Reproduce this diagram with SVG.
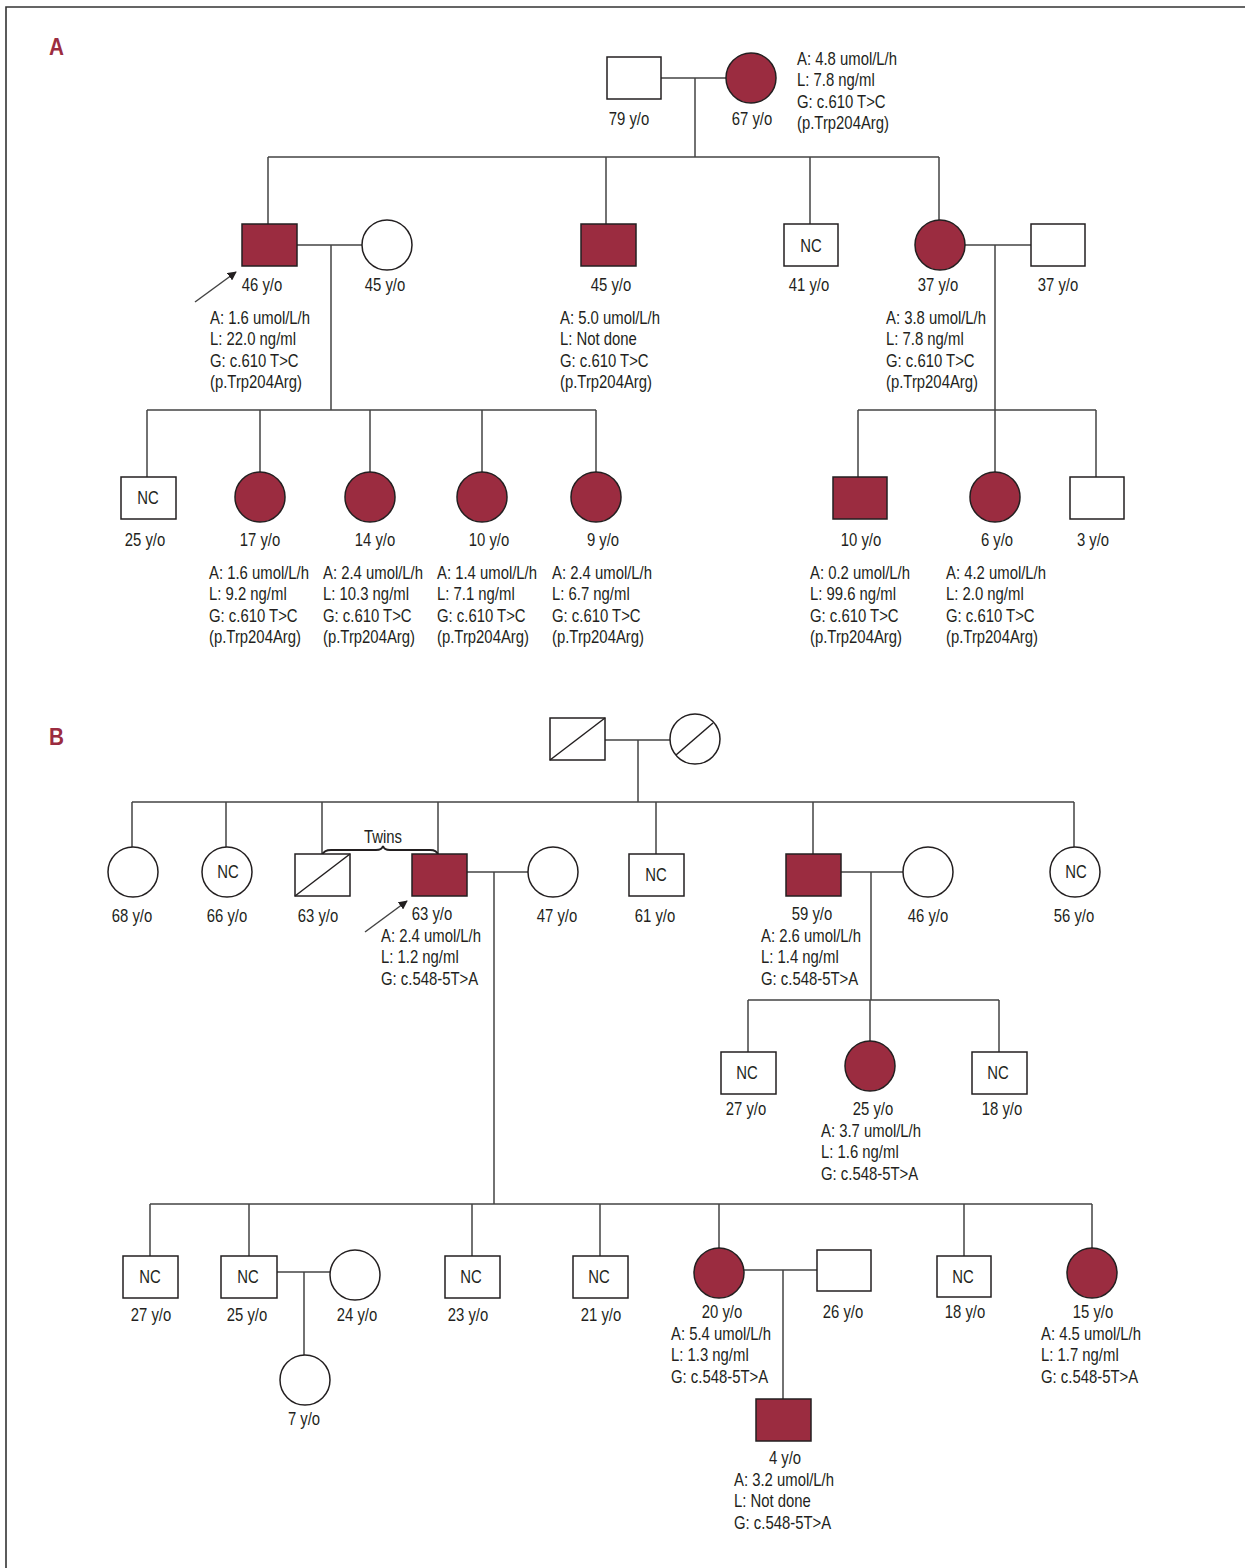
<svg xmlns="http://www.w3.org/2000/svg" width="1245" height="1568" viewBox="0 0 1245 1568">
<defs>
<style>
text{font-family:"Liberation Sans",Arial,sans-serif;font-size:17.5px;fill:#231f20}
.c{text-anchor:middle}
.panel{font-family:"Liberation Sans",Arial,sans-serif;font-weight:bold;font-size:23px;fill:#9b2c40}
.sh{fill:#fff;stroke:#231f20;stroke-width:1.5}
.aff{fill:#9b2c40;stroke:#231f20;stroke-width:1.5}
.ln{fill:none;stroke:#444;stroke-width:1.5}
.dg{stroke:#231f20;stroke-width:1.5}
.frame{fill:none;stroke:#333;stroke-width:1.6}
</style>
<marker id="ah" viewBox="0 0 10 10" refX="9" refY="5" markerWidth="9" markerHeight="9" markerUnits="userSpaceOnUse" orient="auto"><path d="M0,0 L10,5 L0,10 z" fill="#231f20"/></marker>
</defs>
<rect width="1245" height="1568" fill="#fff"/>
<path class="frame" d="M6,1568 V7 H1245"/>
<text class="panel" transform="translate(49,55) scale(.9,1)">A</text>
<text class="panel" transform="translate(49,745) scale(.9,1)">B</text>

<g id="connectors">
<path class="ln" d="M661,78 H726 M695,78 V157 M268,157 H939 M268,157 V224 M606,157 V224 M810,157 V224 M939,157 V220"/>
<path class="ln" d="M297,245 H362 M331,245 V410 M147,410 H596 M147,410 V477 M260,410 V472 M370,410 V472 M482,410 V472 M596,410 V472"/>
<path class="ln" d="M965,245 H1031 M995,245 V472 M858,410 H1096 M858,410 V477 M1096,410 V477"/>
<path class="ln" d="M195,302 L236,272" marker-end="url(#ah)"/>
<path class="ln" d="M605,740 H670 M638,740 V802 M132,802 H1074 M132,802 V847 M226,802 V847 M322,802 V854 M438,802 V854 M656,802 V854 M813,802 V854 M1074,802 V847"/>
<path fill="none" stroke="#231f20" stroke-width="2" d="M322,855 Q324,850 331,850 L376,850 Q382,850 383,846 Q384,850 390,850 L430,850 Q437,850 438,855"/>
<path class="ln" d="M467,872 H528 M494,872 V1204"/>
<path class="ln" d="M841,872 H903 M871,872 V1000 M748,1000 H999 M748,1000 V1052 M870,1000 V1041 M999,1000 V1052"/>
<path class="ln" d="M150,1204 H1092 M150,1204 V1256 M249,1204 V1256 M472,1204 V1256 M600,1204 V1256 M719,1204 V1248 M964,1204 V1256 M1092,1204 V1248"/>
<path class="ln" d="M277,1272 H330 M304,1272 V1355 M744,1270 H817 M783,1270 V1399"/>
<path class="ln" d="M365,932 L407,901" marker-end="url(#ah)"/>
</g>

<g id="a-i1"><rect class="sh" x="607" y="57" width="54" height="42"/><text class="c" transform="translate(629,125) scale(.85,1)">79 y/o</text></g>
<g id="a-i2"><circle class="aff" cx="751" cy="78" r="25"/><text class="c" transform="translate(752,125) scale(.85,1)">67 y/o</text>
<text transform="translate(797,65) scale(.85,1)">A: 4.8 umol/L/h<tspan x="0" dy="21.3">L: 7.8 ng/ml</tspan><tspan x="0" dy="21.3">G: c.610 T&gt;C</tspan><tspan x="0" dy="21.3">(p.Trp204Arg)</tspan></text></g>

<g id="a-ii1"><rect class="aff" x="242" y="224" width="55" height="42"/><text class="c" transform="translate(262,291) scale(.85,1)">46 y/o</text>
<text transform="translate(210,324) scale(.85,1)">A: 1.6 umol/L/h<tspan x="0" dy="21.3">L: 22.0 ng/ml</tspan><tspan x="0" dy="21.3">G: c.610 T&gt;C</tspan><tspan x="0" dy="21.3">(p.Trp204Arg)</tspan></text></g>
<g id="a-ii2"><circle class="sh" cx="387" cy="245" r="25"/><text class="c" transform="translate(385,291) scale(.85,1)">45 y/o</text></g>
<g id="a-ii3"><rect class="aff" x="581" y="224" width="55" height="42"/><text class="c" transform="translate(611,291) scale(.85,1)">45 y/o</text>
<text transform="translate(560,324) scale(.85,1)">A: 5.0 umol/L/h<tspan x="0" dy="21.3">L: Not done</tspan><tspan x="0" dy="21.3">G: c.610 T&gt;C</tspan><tspan x="0" dy="21.3">(p.Trp204Arg)</tspan></text></g>
<g id="a-ii4"><rect class="sh" x="784" y="224" width="54" height="42"/><text class="c" transform="translate(811,252) scale(.85,1)">NC</text><text class="c" transform="translate(809,291) scale(.85,1)">41 y/o</text></g>
<g id="a-ii5"><circle class="aff" cx="940" cy="245" r="25"/><text class="c" transform="translate(938,291) scale(.85,1)">37 y/o</text>
<text transform="translate(886,324) scale(.85,1)">A: 3.8 umol/L/h<tspan x="0" dy="21.3">L: 7.8 ng/ml</tspan><tspan x="0" dy="21.3">G: c.610 T&gt;C</tspan><tspan x="0" dy="21.3">(p.Trp204Arg)</tspan></text></g>
<g id="a-ii6"><rect class="sh" x="1031" y="224" width="54" height="42"/><text class="c" transform="translate(1058,291) scale(.85,1)">37 y/o</text></g>

<g id="a-iii1"><rect class="sh" x="121" y="477" width="55" height="42"/><text class="c" transform="translate(148,504) scale(.85,1)">NC</text><text class="c" transform="translate(145,546) scale(.85,1)">25 y/o</text></g>
<g id="a-iii2"><circle class="aff" cx="260" cy="497" r="25"/><text class="c" transform="translate(260,546) scale(.85,1)">17 y/o</text>
<text transform="translate(209,579) scale(.85,1)">A: 1.6 umol/L/h<tspan x="0" dy="21.3">L: 9.2 ng/ml</tspan><tspan x="0" dy="21.3">G: c.610 T&gt;C</tspan><tspan x="0" dy="21.3">(p.Trp204Arg)</tspan></text></g>
<g id="a-iii3"><circle class="aff" cx="370" cy="497" r="25"/><text class="c" transform="translate(375,546) scale(.85,1)">14 y/o</text>
<text transform="translate(323,579) scale(.85,1)">A: 2.4 umol/L/h<tspan x="0" dy="21.3">L: 10.3 ng/ml</tspan><tspan x="0" dy="21.3">G: c.610 T&gt;C</tspan><tspan x="0" dy="21.3">(p.Trp204Arg)</tspan></text></g>
<g id="a-iii4"><circle class="aff" cx="482" cy="497" r="25"/><text class="c" transform="translate(489,546) scale(.85,1)">10 y/o</text>
<text transform="translate(437,579) scale(.85,1)">A: 1.4 umol/L/h<tspan x="0" dy="21.3">L: 7.1 ng/ml</tspan><tspan x="0" dy="21.3">G: c.610 T&gt;C</tspan><tspan x="0" dy="21.3">(p.Trp204Arg)</tspan></text></g>
<g id="a-iii5"><circle class="aff" cx="596" cy="497" r="25"/><text class="c" transform="translate(603,546) scale(.85,1)">9 y/o</text>
<text transform="translate(552,579) scale(.85,1)">A: 2.4 umol/L/h<tspan x="0" dy="21.3">L: 6.7 ng/ml</tspan><tspan x="0" dy="21.3">G: c.610 T&gt;C</tspan><tspan x="0" dy="21.3">(p.Trp204Arg)</tspan></text></g>
<g id="a-iii6"><rect class="aff" x="833" y="477" width="54" height="42"/><text class="c" transform="translate(861,546) scale(.85,1)">10 y/o</text>
<text transform="translate(810,579) scale(.85,1)">A: 0.2 umol/L/h<tspan x="0" dy="21.3">L: 99.6 ng/ml</tspan><tspan x="0" dy="21.3">G: c.610 T&gt;C</tspan><tspan x="0" dy="21.3">(p.Trp204Arg)</tspan></text></g>
<g id="a-iii7"><circle class="aff" cx="995" cy="497" r="25"/><text class="c" transform="translate(997,546) scale(.85,1)">6 y/o</text>
<text transform="translate(946,579) scale(.85,1)">A: 4.2 umol/L/h<tspan x="0" dy="21.3">L: 2.0 ng/ml</tspan><tspan x="0" dy="21.3">G: c.610 T&gt;C</tspan><tspan x="0" dy="21.3">(p.Trp204Arg)</tspan></text></g>
<g id="a-iii8"><rect class="sh" x="1070" y="477" width="54" height="42"/><text class="c" transform="translate(1093,546) scale(.85,1)">3 y/o</text></g>

<g id="b-i1"><rect class="sh" x="550" y="718" width="55" height="42"/><line class="dg" x1="550" y1="760" x2="605" y2="718"/></g>
<g id="b-i2"><circle class="sh" cx="695" cy="739" r="25"/><line class="dg" x1="676" y1="755" x2="713" y2="723"/></g>

<g id="b-ii1"><circle class="sh" cx="133" cy="872" r="25"/><text class="c" transform="translate(132,922) scale(.85,1)">68 y/o</text></g>
<g id="b-ii2"><circle class="sh" cx="227" cy="872" r="25"/><text class="c" transform="translate(228,878) scale(.85,1)">NC</text><text class="c" transform="translate(227,922) scale(.85,1)">66 y/o</text></g>
<g id="b-ii3"><rect class="sh" x="295" y="854" width="55" height="42"/><line class="dg" x1="295" y1="896" x2="350" y2="854"/><text class="c" transform="translate(318,922) scale(.85,1)">63 y/o</text></g>
<text class="c" transform="translate(383,843) scale(.85,1)">Twins</text>
<g id="b-ii4"><rect class="aff" x="412" y="854" width="55" height="42"/><text class="c" transform="translate(432,920) scale(.85,1)">63 y/o</text>
<text transform="translate(381,942) scale(.85,1)">A: 2.4 umol/L/h<tspan x="0" dy="21.3">L: 1.2 ng/ml</tspan><tspan x="0" dy="21.3">G: c.548-5T&gt;A</tspan></text></g>
<g id="b-ii5"><circle class="sh" cx="553" cy="872" r="25"/><text class="c" transform="translate(557,922) scale(.85,1)">47 y/o</text></g>
<g id="b-ii6"><rect class="sh" x="629" y="854" width="55" height="42"/><text class="c" transform="translate(656,881) scale(.85,1)">NC</text><text class="c" transform="translate(655,922) scale(.85,1)">61 y/o</text></g>
<g id="b-ii7"><rect class="aff" x="786" y="854" width="55" height="42"/><text class="c" transform="translate(812,920) scale(.85,1)">59 y/o</text>
<text transform="translate(761,942) scale(.85,1)">A: 2.6 umol/L/h<tspan x="0" dy="21.3">L: 1.4 ng/ml</tspan><tspan x="0" dy="21.3">G: c.548-5T&gt;A</tspan></text></g>
<g id="b-ii8"><circle class="sh" cx="928" cy="872" r="25"/><text class="c" transform="translate(928,922) scale(.85,1)">46 y/o</text></g>
<g id="b-ii9"><circle class="sh" cx="1075" cy="872" r="25"/><text class="c" transform="translate(1076,878) scale(.85,1)">NC</text><text class="c" transform="translate(1074,922) scale(.85,1)">56 y/o</text></g>

<g id="b-iii-a1"><rect class="sh" x="721" y="1052" width="55" height="42"/><text class="c" transform="translate(747,1079) scale(.85,1)">NC</text><text class="c" transform="translate(746,1115) scale(.85,1)">27 y/o</text></g>
<g id="b-iii-a2"><circle class="aff" cx="870" cy="1066" r="25"/><text class="c" transform="translate(873,1115) scale(.85,1)">25 y/o</text>
<text transform="translate(821,1137) scale(.85,1)">A: 3.7 umol/L/h<tspan x="0" dy="21.3">L: 1.6 ng/ml</tspan><tspan x="0" dy="21.3">G: c.548-5T&gt;A</tspan></text></g>
<g id="b-iii-a3"><rect class="sh" x="972" y="1052" width="55" height="42"/><text class="c" transform="translate(998,1079) scale(.85,1)">NC</text><text class="c" transform="translate(1002,1115) scale(.85,1)">18 y/o</text></g>

<g id="b-iii1"><rect class="sh" x="123" y="1256" width="55" height="42"/><text class="c" transform="translate(150,1283) scale(.85,1)">NC</text><text class="c" transform="translate(151,1321) scale(.85,1)">27 y/o</text></g>
<g id="b-iii2"><rect class="sh" x="221" y="1256" width="56" height="42"/><text class="c" transform="translate(248,1283) scale(.85,1)">NC</text><text class="c" transform="translate(247,1321) scale(.85,1)">25 y/o</text></g>
<g id="b-iii3"><circle class="sh" cx="355" cy="1275" r="25"/><text class="c" transform="translate(357,1321) scale(.85,1)">24 y/o</text></g>
<g id="b-iv1"><circle class="sh" cx="305" cy="1380" r="25"/><text class="c" transform="translate(304,1425) scale(.85,1)">7 y/o</text></g>
<g id="b-iii4"><rect class="sh" x="445" y="1256" width="55" height="42"/><text class="c" transform="translate(471,1283) scale(.85,1)">NC</text><text class="c" transform="translate(468,1321) scale(.85,1)">23 y/o</text></g>
<g id="b-iii5"><rect class="sh" x="573" y="1256" width="55" height="42"/><text class="c" transform="translate(599,1283) scale(.85,1)">NC</text><text class="c" transform="translate(601,1321) scale(.85,1)">21 y/o</text></g>
<g id="b-iii6"><circle class="aff" cx="719" cy="1273" r="25"/><text class="c" transform="translate(722,1318) scale(.85,1)">20 y/o</text>
<text transform="translate(671,1340) scale(.85,1)">A: 5.4 umol/L/h<tspan x="0" dy="21.3">L: 1.3 ng/ml</tspan><tspan x="0" dy="21.3">G: c.548-5T&gt;A</tspan></text></g>
<g id="b-iii7"><rect class="sh" x="817" y="1250" width="54" height="41"/><text class="c" transform="translate(843,1318) scale(.85,1)">26 y/o</text></g>
<g id="b-iv2"><rect class="aff" x="756" y="1399" width="55" height="42"/><text class="c" transform="translate(785,1464) scale(.85,1)">4 y/o</text>
<text transform="translate(734,1486) scale(.85,1)">A: 3.2 umol/L/h<tspan x="0" dy="21.3">L: Not done</tspan><tspan x="0" dy="21.3">G: c.548-5T&gt;A</tspan></text></g>
<g id="b-iii8"><rect class="sh" x="937" y="1256" width="54" height="41"/><text class="c" transform="translate(963,1283) scale(.85,1)">NC</text><text class="c" transform="translate(965,1318) scale(.85,1)">18 y/o</text></g>
<g id="b-iii9"><circle class="aff" cx="1092" cy="1273" r="25"/><text class="c" transform="translate(1093,1318) scale(.85,1)">15 y/o</text>
<text transform="translate(1041,1340) scale(.85,1)">A: 4.5 umol/L/h<tspan x="0" dy="21.3">L: 1.7 ng/ml</tspan><tspan x="0" dy="21.3">G: c.548-5T&gt;A</tspan></text></g>
</svg>
